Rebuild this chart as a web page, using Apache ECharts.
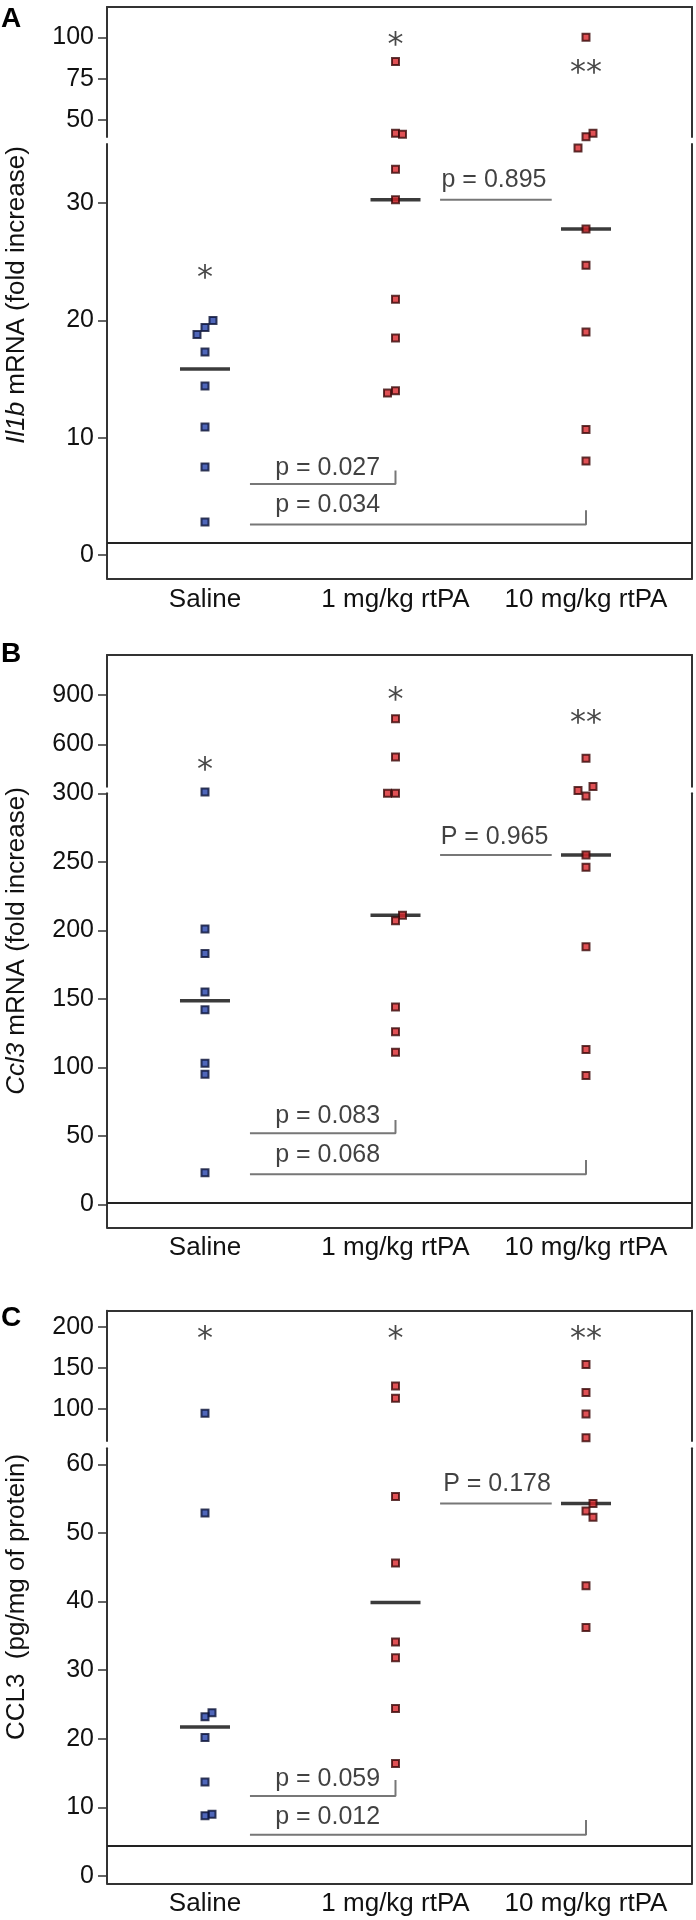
<!DOCTYPE html>
<html><head><meta charset="utf-8">
<script src="https://cdn.jsdelivr.net/npm/echarts@6/dist/echarts.min.js"></script>
<style>html,body{margin:0;padding:0;background:#fff}#c{width:696px;height:1920px}</style>
</head><body><div id="c"></div>
<script>
// ---------------- DATA ----------------
const categories = ['Saline', '1 mg/kg rtPA', '10 mg/kg rtPA'];

// Panel A: Il1b mRNA (fold increase)
const il1bSaline = [20.0, 19.4, 18.8, 17.3, 14.4, 10.9, 7.5, 2.8];
const il1b1mg    = [85.3, 42.0, 41.4, 32.9, 30.3, 21.8, 18.5, 14.0, 13.8];
const il1b10mg   = [100, 42.0, 39.9, 34.7, 27.8, 24.7, 19.0, 10.7, 8.0];

// Panel B: Ccl3 mRNA (fold increase)
const ccl3Saline = [301, 201, 183, 155, 142, 103, 95, 23];
const ccl31mg    = [756, 523, 300, 300, 211, 207, 144, 126, 111];
const ccl310mg   = [515, 305, 302, 298, 255, 246, 188, 113, 94];

// Panel C: CCL3 (pg/mg of protein)
const protSaline = [94.8, 52.9, 23.8, 23.2, 20.2, 13.7, 9.0, 8.8];
const prot1mg    = [128, 113, 55.3, 45.6, 34.1, 31.8, 24.4, 16.4];
const prot10mg   = [154, 120, 94, 65.1, 54.3, 53.2, 52.3, 42.3, 36.2];

// tick labels
const ticksAUpper = [50, 75, 100];
const ticksALower = [0, 10, 20, 30];
const ticksBUpper = [600, 900];
const ticksBLower = [0, 50, 100, 150, 200, 250, 300];
const ticksCUpper = [100, 150, 200];
const ticksCLower = [0, 10, 20, 30, 40, 50, 60];

// significance marks and their levels
const starsText = ['*', '*', '**'];
const starLevelsA = [24.4, 101, 84];
const starLevelsB = [500, 926, 789];
const starLevelsC = [196, 196, 196];

// p-value texts
const pTextsA = ['p = 0.895', 'p = 0.027', 'p = 0.034'];
const pTextsB = ['P = 0.965', 'p = 0.083', 'p = 0.068'];
const pTextsC = ['P = 0.178', 'p = 0.059', 'p = 0.012'];

// reference (baseline) levels
const baselineA = 1;
const baselineB = 1;
const baselineC = 4.4;

// ---------------- LAYOUT / STYLE ----------------
const FONT = '"Liberation Sans", Arial, Helvetica, sans-serif';
const X_MIN = -0.5144, X_MAX = 2.5564;
const frameColor = '#333333';
const textColor = '#111111';

// jitter of side-by-side points, in pixels
const jitterA = [[8,0,-8,0,0,0,0,0],[0,0,7,0,0,0,0,0,-8],[0,7,0,-8,0,0,0,0,0]];
const jitterB = [[0,0,0,0,0,0,0,0],[0,0,-8,0,7,0,0,0,0],[0,7,-8,0,0,0,0,0,0]];
const jitterC = [[0,0,7,0,0,0,7,0],[0,0,0,0,0,0,0,0],[0,0,0,0,7,0,7,0,0]];

// bracket geometry (x in category units, y in data units of the lower segment)
const bracketGeoA = [
  {x1:1.234, x2:1.82, y:30.3, tx:1.517, ty:31.94},
  {x1:0.236, x2:1, y:6.05, yTop:7.2, tx:0.644, ty:7.41},
  {x1:0.236, x2:2, y:2.58, yTop:3.8, tx:0.644, ty:4.2}
];
const bracketGeoB = [
  {x1:1.234, x2:1.82, y:255, tx:1.52, ty:268.3},
  {x1:0.236, x2:1, y:51.8, yTop:61.5, tx:0.644, ty:64.7},
  {x1:0.236, x2:2, y:21.9, yTop:32.3, tx:0.644, ty:36}
];
const bracketGeoC = [
  {x1:1.234, x2:1.82, y:54.3, tx:1.533, ty:57.1},
  {x1:0.236, x2:1, y:11.66, yTop:14.0, tx:0.644, ty:14.1},
  {x1:0.236, x2:2, y:6.0, yTop:8.16, tx:0.644, ty:8.64}
];

const panels = [
  { letter:'A', letterY:19, title:'{i|Il1b} mRNA (fold increase)', titleY:295,
    upper:{top:7, bottom:137, min:39.7, max:118.3, ticks:ticksAUpper},
    lower:{top:144, bottom:578.5, min:-2.02, max:35.05, ticks:ticksALower},
    groups:[il1bSaline, il1b1mg, il1b10mg], jitter:jitterA,
    starLevels:starLevelsA, pTexts:pTextsA, brackets:bracketGeoA, baseline:baselineA },
  { letter:'B', letterY:654, title:'{i|Ccl3} mRNA (fold increase)', titleY:941,
    upper:{top:655, bottom:786.7, min:342, max:1143.4, ticks:ticksBUpper},
    lower:{top:793.3, bottom:1227.3, min:-16.8, max:300, ticks:ticksBLower},
    groups:[ccl3Saline, ccl31mg, ccl310mg], jitter:jitterB,
    starLevels:starLevelsB, pTexts:pTextsB, brackets:bracketGeoB, baseline:baselineB },
  { letter:'C', letterY:1318, title:'CCL3  (pg/mg of protein)', titleY:1597,
    upper:{top:1310.7, bottom:1441, min:61.1, max:219.4, ticks:ticksCUpper},
    lower:{top:1448.3, bottom:1883.3, min:-1.06, max:62.33, ticks:ticksCLower},
    groups:[protSaline, prot1mg, prot10mg], jitter:jitterC,
    starLevels:starLevelsC, pTexts:pTextsC, brackets:bracketGeoC, baseline:baselineC }
];

const groupStyle = [
  {color:'#2340a8', borderColor:'#0a1236', borderWidth:2},
  {color:'#d8262a', borderColor:'#3a0707', borderWidth:2},
  {color:'#d8262a', borderColor:'#3a0707', borderWidth:2}
];

function median(arr){
  const s = arr.slice().sort((a,b)=>a-b);
  const n = s.length;
  return n % 2 ? s[(n-1)/2] : (s[n/2-1] + s[n/2]) / 2;
}

const option = { animation:false, backgroundColor:'#fff', grid:[], xAxis:[], yAxis:[], series:[], graphic:[] };

panels.forEach(p => {
  ['upper','lower'].forEach(segName => {
    const seg = p[segName];
    const isLower = segName === 'lower';
    const gi = option.grid.length;
    option.grid.push({left:107, right:4, top:seg.top, height:seg.bottom - seg.top, outerBoundsMode:'none'});
    option.xAxis.push({
      type:'value', gridIndex:gi, min:X_MIN, max:X_MAX, position: isLower ? 'bottom' : 'top',
      axisLine:{show:true, onZero:false, lineStyle:{color:frameColor, width:2}},
      axisTick:{show:false}, splitLine:{show:false},
      axisLabel: isLower ? {show:true, customValues:[0,1,2], formatter: v => categories[Math.round(v)],
        fontSize:26, fontFamily:FONT, color:textColor, margin:8} : {show:false}
    });
    const yi = option.yAxis.length;
    option.yAxis.push({
      type:'value', gridIndex:gi, min:seg.min, max:seg.max, position:'left',
      axisLine:{show:true, onZero:false, lineStyle:{color:frameColor, width:2}},
      axisTick:{show:true, customValues:seg.ticks, length:9, lineStyle:{color:frameColor, width:1.5}},
      axisLabel:{show:true, customValues:seg.ticks, fontSize:25, fontFamily:FONT, color:textColor, margin:13},
      splitLine:{show:false}
    });
    option.yAxis.push({
      type:'value', gridIndex:gi, min:seg.min, max:seg.max, position:'right',
      axisLine:{show:true, onZero:false, lineStyle:{color:frameColor, width:2}},
      axisTick:{show:false}, axisLabel:{show:false}, splitLine:{show:false}
    });
    seg.gi = gi; seg.yi = yi;
  });

  const U = p.upper, L = p.lower;

  // points
  p.groups.forEach((vals, g) => {
    const up = [], low = [];
    vals.forEach((v, k) => {
      const item = {value:[g, v], symbolOffset:[p.jitter[g][k], 0]};
      (v >= U.min ? up : low).push(item);
    });
    [[up, U], [low, L]].forEach(([data, seg]) => {
      if (!data.length) return;
      option.series.push({type:'scatter', xAxisIndex:seg.gi, yAxisIndex:seg.yi, data,
        symbol:'rect', symbolSize:7, clip:false, silent:true, z:5, itemStyle:groupStyle[g]});
    });
  });

  // medians + baseline
  option.series.push({type:'scatter', xAxisIndex:L.gi, yAxisIndex:L.yi,
    data: p.groups.map((vals, g) => [g, median(vals)]),
    symbol:'rect', symbolSize:[50, 3.5], silent:true, z:4, itemStyle:{color:'#0a0a0a'},
    markLine:{silent:true, symbol:'none', data:[{yAxis:p.baseline}],
      lineStyle:{color:'#222', width:2, type:'solid'}, label:{show:false}}
  });

  // brackets
  p.brackets.forEach(b => {
    const pts = [[b.x1, b.y], [b.x2, b.y]];
    if (b.yTop != null) pts.push([b.x2, b.yTop]);
    option.series.push({type:'line', xAxisIndex:L.gi, yAxisIndex:L.yi, data:pts,
      symbol:'none', silent:true, z:3, lineStyle:{color:'#777', width:2}});
  });
  option.series.push({type:'scatter', xAxisIndex:L.gi, yAxisIndex:L.yi,
    data: p.brackets.map((b, k) => ({value:[b.tx, b.ty], name:p.pTexts[k]})),
    symbol:'rect', symbolSize:1, silent:true, z:6, itemStyle:{color:'rgba(0,0,0,0)'},
    label:{show:true, position:'inside', formatter:'{b}', fontSize:25, fontFamily:FONT, color:textColor}
  });

  // stars
  p.starLevels.forEach((lv, g) => {
    const seg = lv >= U.min ? U : L;
    option.series.push({type:'scatter', xAxisIndex:seg.gi, yAxisIndex:seg.yi,
      data:[{value:[g, lv], name:starsText[g]}],
      symbol:'rect', symbolSize:1, silent:true, z:6, clip:false, itemStyle:{color:'rgba(0,0,0,0)'},
      label:{show:true, position:'inside', formatter:'{b}', offset:[0, 10],
        fontSize:32, fontFamily:'"DejaVu Sans", sans-serif', color:'#1a1a1a'}
    });
  });

  // panel letter and y-axis title
  option.graphic.push({type:'text', x:1, y:p.letterY, silent:true,
    style:{text:p.letter, fontSize:28, fontWeight:'bold', fontFamily:FONT, fill:'#000', verticalAlign:'middle', align:'left'}});
  option.graphic.push({type:'text', x:17, y:p.titleY, rotation:Math.PI/2, silent:true,
    style:{text:p.title, fontSize:26, fontFamily:FONT, fill:textColor, align:'center', verticalAlign:'middle',
      rich:{i:{fontStyle:'italic', fontSize:26, fontFamily:FONT, fill:textColor}}}});
});

const chart = echarts.init(document.getElementById('c'), null, {renderer:'canvas'});
chart.setOption(option);
</script>
</body></html>
